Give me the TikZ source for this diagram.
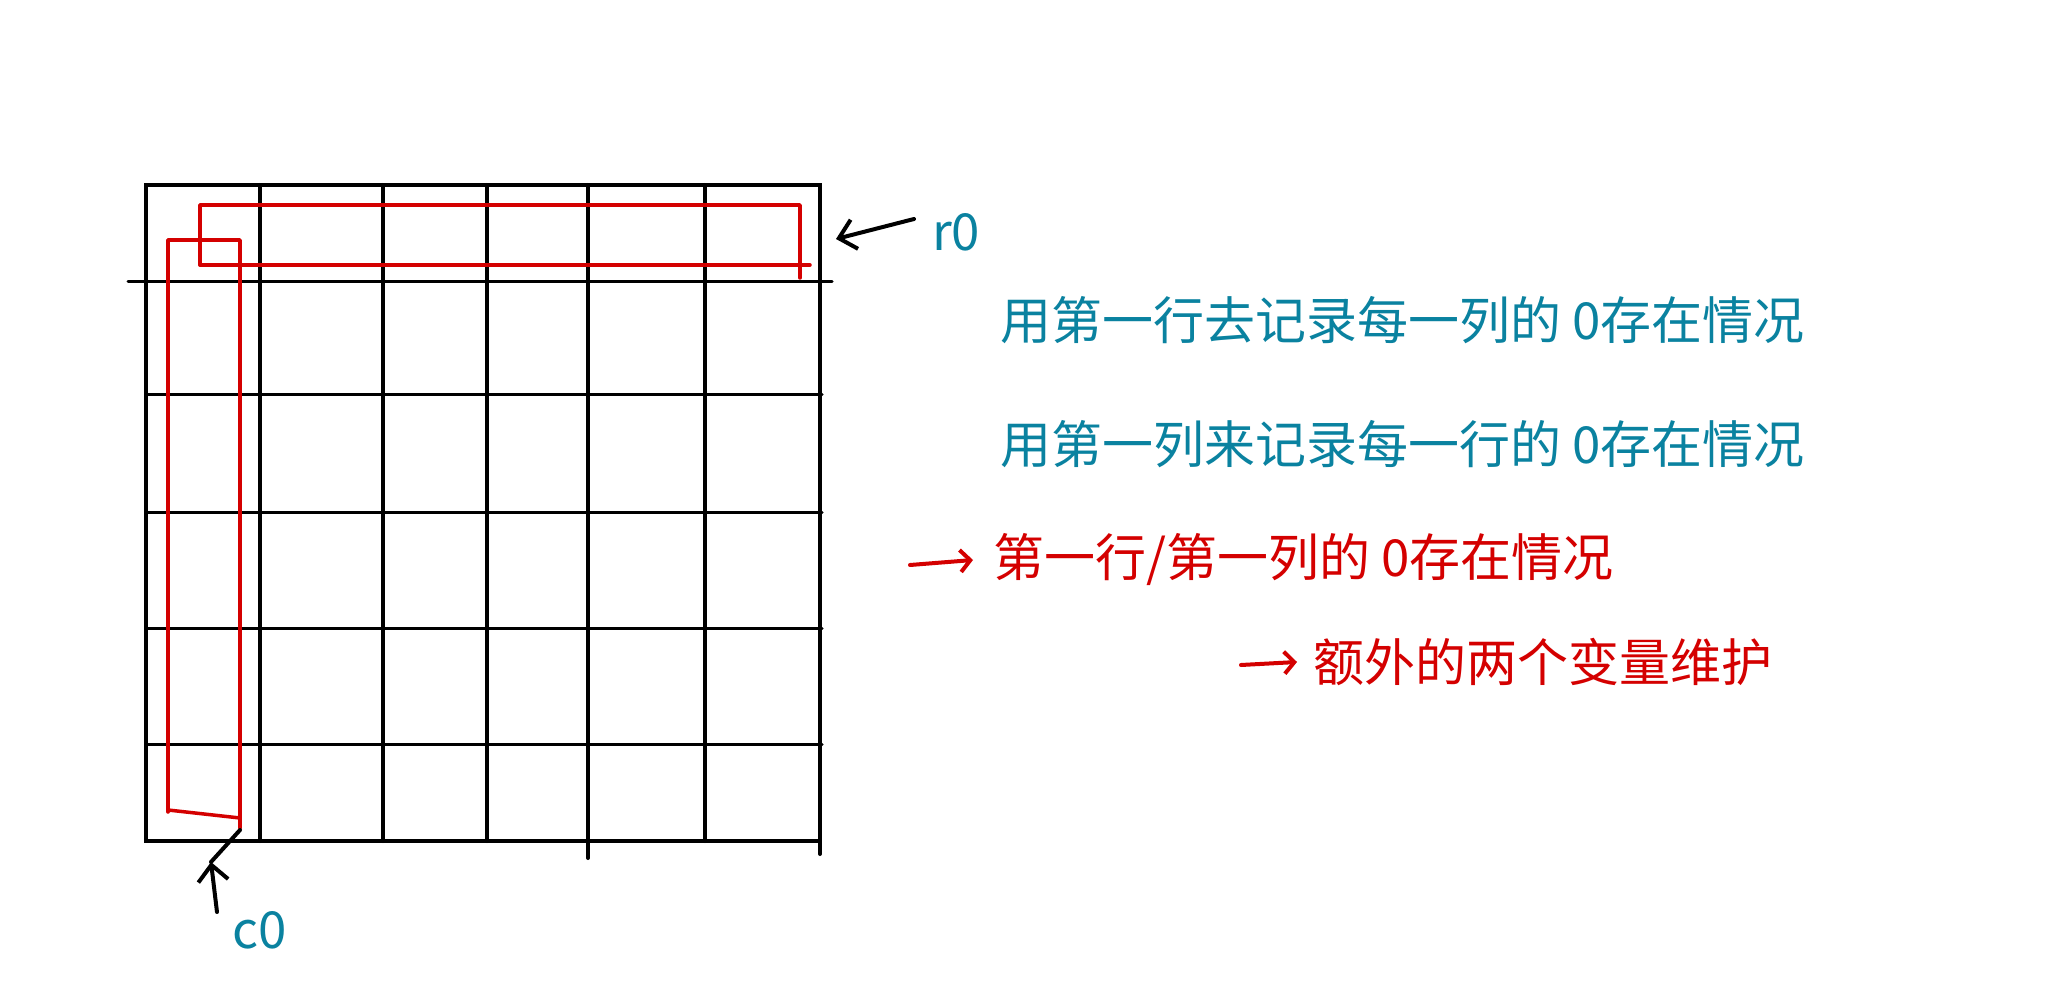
\documentclass[tikz,border=0pt]{standalone}
\usepackage{fontspec}
\setmainfont{Noto Sans CJK SC}
\usetikzlibrary{arrows.meta, positioning}
\definecolor{inkteal}{RGB}{10,130,160}
\definecolor{inkred}{RGB}{212,0,0}
\tikzset{
    grid border/.style = {line width=4pt, black, line cap=round},
    grid line/.style = {line width=3pt, black, line cap=round},
    mark line/.style = {line width=3.5pt, inkred, line cap=round, line join=round},
    pointer/.style = {line width=4pt, black, line cap=round,
      arrows={-Straight Barb[length=16pt, width=30pt, line width=4pt]}},
    red pointer/.style = {line width=4pt, inkred, line cap=round,
      arrows={-Straight Barb[length=10pt, width=22pt, line width=4pt]}},
    note/.style = {anchor=west, inner sep=0, font=\fontsize{51}{60}\selectfont},
    teal note/.style = {note, text=inkteal},
    red note/.style = {note, text=inkred},
}
\begin{document}
\begin{tikzpicture}[x=1pt, y=-1pt]
    \useasboundingbox (0,0) rectangle (2048,1000);

    %% Draw the matrix grid
    \draw [grid border] (146,185) rectangle (820,841);
    \foreach \x in {260,383,487,588,705}{%
      \draw [grid border] (\x,185) -- (\x,841);
    }
    \draw [grid border] (588,841) -- (588,858);
    \draw [grid border] (820,841) -- (820,854);
    \draw [grid line] (128,282) -- (832,282);
    \foreach \y in {394,512,628,744}{%
      \draw [grid line] (146,\y) -- (822,\y);
    }

    %% Mark the first row and the first column
    \draw [mark line] (200,265) -- (200,205) -- (800,205) -- (800,278);
    \draw [mark line] (200,265) -- (810,265);
    \draw [mark line] (168,812) -- (168,240) -- (240,240) -- (240,828);
    \draw [mark line] (168,810) -- (240,818);

    %% Labels for the first row and the first column
    \node [teal note] (r0) at (932,232) {r0};
    \node [teal note] (c0) at (232,930) {c0};
    \coordinate (r0_tail) at (914,219);
    \coordinate (r0_tip) at (836,239);
    \coordinate (c0_tail) at (217,912);
    \coordinate (c0_tip) at (211,862);
    \draw [pointer] (r0_tail) -- (r0_tip);
    \draw [pointer] (c0_tail) -- (c0_tip);
    \draw [grid border] (c0_tip) -- (240,830);

    %% Notes on the right
    \node [teal note] (note1) at (1000,320) {用第一行去记录每一列的 0存在情况};
    \node [teal note] (note2) at (1000,444) {用第一列来记录每一行的 0存在情况};
    \node [red note] (note3) at (993,560) {第一行/第一列的 0存在情况};
    \node [red note] (note4) at (1313,662) {额外的两个变量维护};
    \coordinate (note3_tail) at (910,565);
    \coordinate (note4_tail) at (1241,665);
    \draw [red pointer] (note3_tail) -- ([xshift=-20pt] note3.west);
    \draw [red pointer] (note4_tail) -- ([xshift=-16pt] note4.west);
  \end{tikzpicture}
\end{document}
